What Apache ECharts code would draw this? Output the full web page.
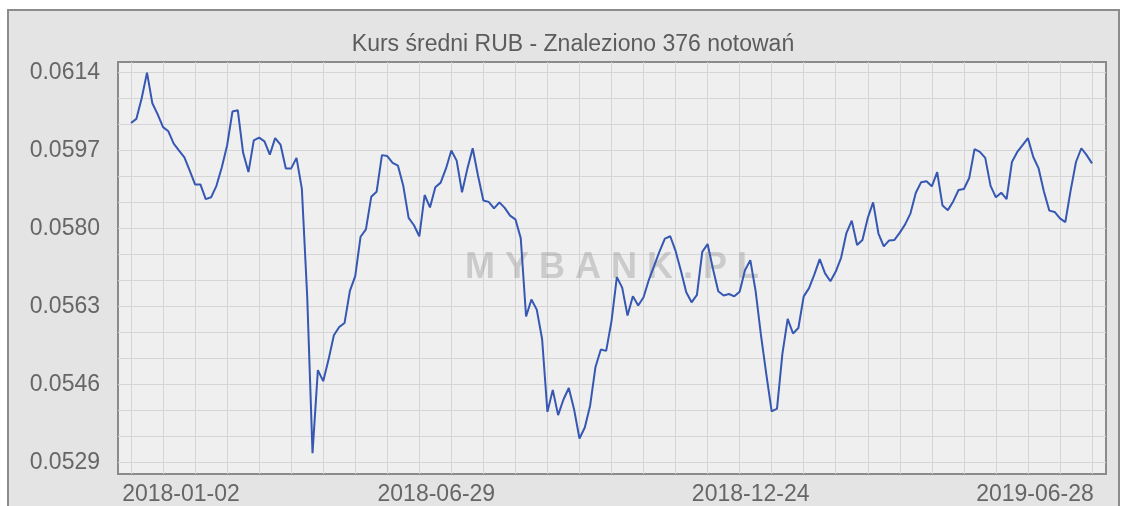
<!DOCTYPE html>
<html>
<head>
<meta charset="utf-8">
<script src="https://cdn.jsdelivr.net/npm/echarts@6/dist/echarts.min.js"></script>
<style>
  html, body { margin: 0; background: #fff; }
  #chart { width: 1127px; height: 506px; }
</style>
</head>
<body>
<div id="chart"></div>
<script>
// Kurs średni RUB, sampled every ~2 quotations (181 points across 376 notowań)
const chartTitle = 'Kurs średni RUB - Znaleziono 376 notowań';
const xLabels = ['2018-01-02', '2018-06-29', '2018-12-24', '2019-06-28'];
const yLabels = [0.0529, 0.0546, 0.0563, 0.0580, 0.0597, 0.0614];
const rates = [
  0.06030, 0.06039, 0.06084, 0.06140, 0.06073, 0.06049, 0.06021, 0.06012, 0.05985, 0.05970,
  0.05955, 0.05926, 0.05896, 0.05896, 0.05864, 0.05868, 0.05893, 0.05933, 0.05981, 0.06055,
  0.06058, 0.05965, 0.05923, 0.05992, 0.05998, 0.05990, 0.05961, 0.05997, 0.05983, 0.05931,
  0.05931, 0.05954, 0.05887, 0.05653, 0.05310, 0.05491, 0.05467, 0.05514, 0.05567, 0.05585,
  0.05594, 0.05664, 0.05696, 0.05782, 0.05798, 0.05869, 0.05880, 0.05960, 0.05958, 0.05943,
  0.05937, 0.05893, 0.05823, 0.05807, 0.05783, 0.05873, 0.05846, 0.05890, 0.05900, 0.05931,
  0.05970, 0.05948, 0.05879, 0.05930, 0.05975, 0.05915, 0.05861, 0.05858, 0.05844, 0.05857,
  0.05845, 0.05828, 0.05820, 0.05779, 0.05608, 0.05645, 0.05623, 0.05559, 0.05400, 0.05448,
  0.05393, 0.05427, 0.05452, 0.05405, 0.05342, 0.05366, 0.05414, 0.05498, 0.05536, 0.05533,
  0.05598, 0.05694, 0.05671, 0.05610, 0.05652, 0.05632, 0.05650, 0.05688, 0.05719, 0.05750,
  0.05778, 0.05783, 0.05751, 0.05708, 0.05661, 0.05639, 0.05655, 0.05749, 0.05766, 0.05712,
  0.05663, 0.05654, 0.05657, 0.05652, 0.05662, 0.05709, 0.05731, 0.05663, 0.05567, 0.05482,
  0.05401, 0.05407, 0.05526, 0.05603, 0.05571, 0.05583, 0.05652, 0.05670, 0.05700, 0.05733,
  0.05702, 0.05685, 0.05706, 0.05736, 0.05790, 0.05817, 0.05764, 0.05775, 0.05823, 0.05857,
  0.05789, 0.05761, 0.05774, 0.05775, 0.05791, 0.05809, 0.05833, 0.05878, 0.05901, 0.05903,
  0.05892, 0.05923, 0.05850, 0.05840, 0.05859, 0.05884, 0.05886, 0.05910, 0.05973, 0.05967,
  0.05954, 0.05893, 0.05868, 0.05878, 0.05864, 0.05945, 0.05967, 0.05982, 0.05997, 0.05956,
  0.05931, 0.05880, 0.05839, 0.05836, 0.05822, 0.05814, 0.05883, 0.05945, 0.05975, 0.05960,
  0.05942
];

const FONT = '"Liberation Sans", Arial, sans-serif';
const labelEvery = (rates.length - 1) / (xLabels.length - 1);   // 60
const gridEvery = labelEvery / 10;
const yStep = (yLabels[1] - yLabels[0]) / 3;

let xTicks = xLabels.map((l, k) => k * labelEvery);
let xGrid = [];
for (let i = 0; i < rates.length; i += gridEvery) xGrid.push(i);
let yGrid = [];
for (let k = 0; k <= 15; k++) yGrid.push(+(yLabels[0] + k * yStep).toFixed(7));

let chart = echarts.init(document.getElementById('chart'));
let option = {
  animation: false,
  title: {
    text: chartTitle,
    left: 568,
    textAlign: 'center',
    top: 28,
    textStyle: { fontFamily: FONT, fontSize: 23, fontWeight: 'normal', color: '#5c5c5c' }
  },
  graphic: {
    elements: [
      {
        type: 'rect', z: -10, silent: true,
        shape: { x: 8, y: 10, width: 1111, height: 520 },
        style: { fill: '#e4e4e4', stroke: '#8c8c8c', lineWidth: 2 }
      },
      {
        type: 'text', z: 1, silent: true,
        x: 612, y: 268,
        style: {
          text: 'M Y B A N K . P L',
          font: 'bold 36px "Liberation Sans", Arial, sans-serif',
          fill: 'rgba(120,120,120,0.3)',
          align: 'center', verticalAlign: 'middle'
        }
      }
    ]
  },
  grid: {
    left: 118, right: 21, top: 62, bottom: 32,
    show: true, backgroundColor: '#efefef', borderColor: '#8a8a8a', borderWidth: 2
  },
  xAxis: {
    type: 'value',
    min: -2.435,
    max: 182.62,
    axisLine: { show: false },
    axisTick: { show: false, customValues: xGrid },
    splitLine: { show: true, lineStyle: { color: '#d5d5d5', width: 1 } },
    axisLabel: {
      customValues: xTicks,
      margin: 9,
      color: '#666',
      fontFamily: FONT,
      fontSize: 23,
      formatter: function (val) {
        let k = Math.round(val / labelEvery);
        return '{p' + k + '|' + xLabels[k] + '}';
      },
      rich: {
        p0: { padding: [0, 0, 0, 100], color: '#666', fontFamily: FONT, fontSize: 23 },
        p1: { padding: [0, 30, 0, 0], color: '#666', fontFamily: FONT, fontSize: 23 },
        p2: { padding: [0, 42, 0, 0], color: '#666', fontFamily: FONT, fontSize: 23 },
        p3: { padding: [0, 114, 0, 0], color: '#666', fontFamily: FONT, fontSize: 23 }
      }
    }
  },
  yAxis: {
    type: 'value',
    min: 0.052645,
    max: 0.061631,
    axisLine: { show: false },
    axisTick: { show: false, customValues: yGrid },
    splitLine: { show: true, lineStyle: { color: '#d5d5d5', width: 1 } },
    axisLabel: {
      customValues: yLabels,
      margin: 18,
      color: '#666',
      fontFamily: FONT,
      fontSize: 23,
      formatter: v => v.toFixed(4)
    }
  },
  series: [{
    type: 'line',
    data: rates.map((v, i) => [i, v]),
    symbol: 'none',
    z: 3,
    lineStyle: { color: '#3658b2', width: 2 }
  }]
};
chart.setOption(option);
</script>
</body>
</html>
